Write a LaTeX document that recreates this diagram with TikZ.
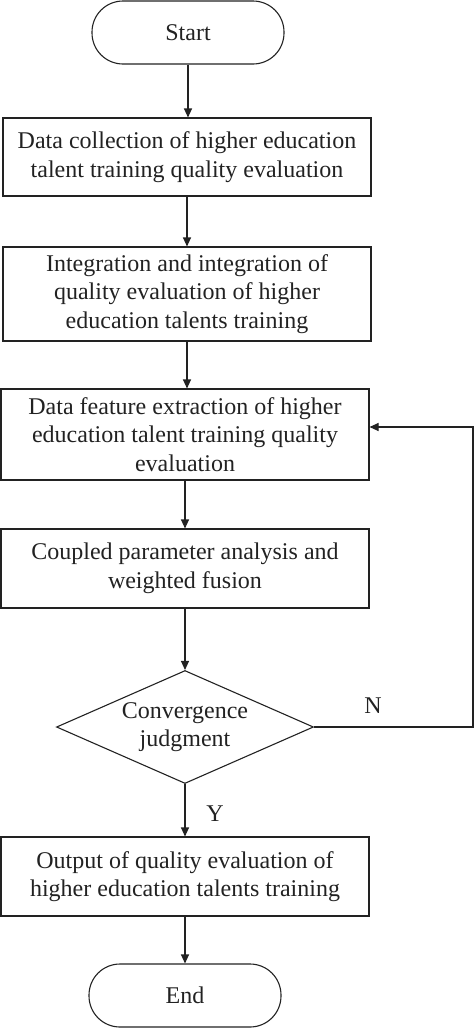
\documentclass[tikz,border=0pt]{standalone}
\usepackage{fontspec}
\setmainfont{Liberation Serif}
\usetikzlibrary{arrows.meta,shapes.geometric}
\definecolor{ink}{HTML}{222222}
\begin{document}
\begin{tikzpicture}[x=1pt,y=-1pt,
  every node/.style={font=\fontsize{24}{28.5}\selectfont, text=ink, align=center},
  procbox/.style={draw=ink, line width=1.1pt, rectangle, minimum width=368pt, inner sep=0pt},
  term/.style={draw=ink, line width=1.1pt, rectangle, rounded corners=31pt, minimum width=192pt, minimum height=63pt, inner sep=0pt},
  decide/.style={draw=ink, line width=1.1pt, diamond, aspect=2.27, minimum width=257pt, minimum height=113pt, inner sep=0pt},
  flow/.style={draw=ink, line width=1.1pt, -{Triangle[length=9pt,width=8pt]}},
  lbl/.style={font=\fontsize{24}{28}\selectfont}
]
\useasboundingbox (0,0) rectangle (474,1028);
\node[term] (start) at (188,32.5) {Start};
\node[procbox, minimum height=78pt] (b1) at (187,157) {Data collection of higher education\\talent training quality evaluation};
\node[procbox, minimum height=94pt] (b2) at (187,294) {Integration and integration of\\quality evaluation of higher\\education talents training};
\node[procbox, minimum height=91pt] (b3) at (185,434.5) {Data feature extraction of higher\\education talent training quality\\evaluation};
\node[procbox, minimum height=79pt] (b4) at (185,568.5) {Coupled parameter analysis and\\weighted fusion};
\node[decide] (dj) at (185,727) {Convergence\\judgment};
\node[procbox, minimum height=79pt] (b5) at (185,876.5) {Output of quality evaluation of\\higher education talents training};
\node[term] (end) at (185,995.5) {End};
\coordinate (lp) at (473,427);
\draw[flow] (start.south) -- (start.south |- b1.north);
\draw[flow] (b1.south) -- (b1.south |- b2.north);
\draw[flow] (b2.south) -- (b2.south |- b3.north);
\draw[flow] (b3.south) -- (b3.south |- b4.north);
\draw[flow] (b4.south) -- (dj.north);
\draw[flow] (dj.south) -- (dj.south |- b5.north);
\draw[flow] (b5.south) -- (end.north);
\draw[flow] (dj.east) -| (lp) -- (b3.east |- lp);
\node[lbl] (nl) at (373,706) {N};
\node[lbl] (yl) at (215,814) {Y};
\end{tikzpicture}
\end{document}
